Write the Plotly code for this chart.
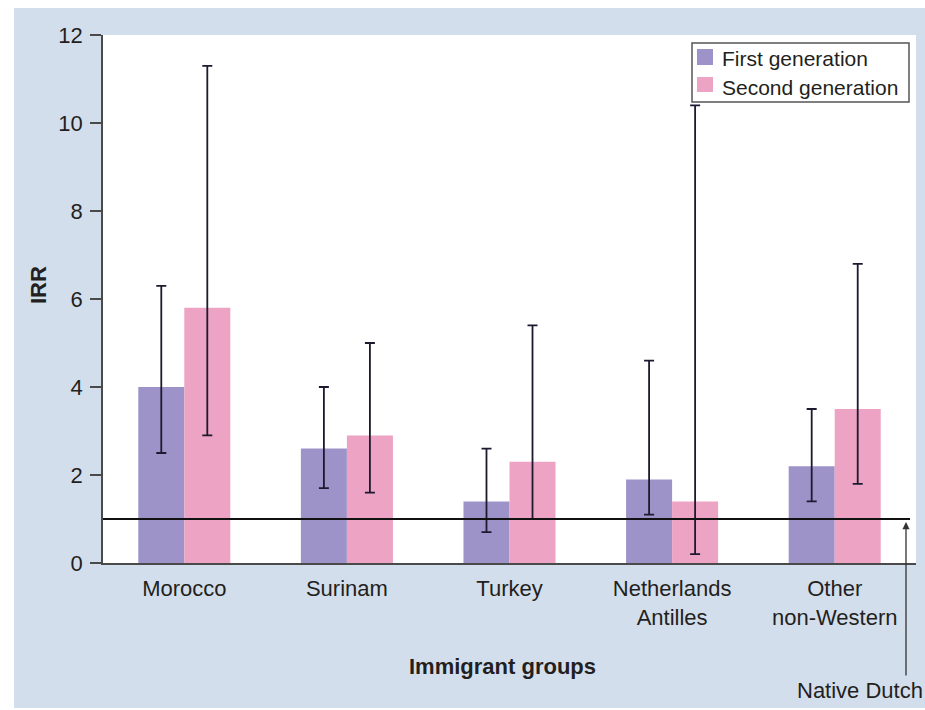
import plotly.graph_objects as go

# Incidence rate ratios by immigrant group and generation (reference: native Dutch = 1)
groups = ["Morocco", "Surinam", "Turkey", "Netherlands<br>Antilles", "Other<br>non-Western"]

first_irr = [4.0, 2.6, 1.4, 1.9, 2.2]
first_lo = [2.5, 1.7, 0.7, 1.1, 1.4]
first_hi = [6.3, 4.0, 2.6, 4.6, 3.5]

second_irr = [5.8, 2.9, 2.3, 1.4, 3.5]
second_lo = [2.9, 1.6, 1.0, 0.2, 1.8]
second_hi = [11.3, 5.0, 5.4, 10.4, 6.8]

baseline = 1.0
y_ticks = [0, 2, 4, 6, 8, 10, 12]

PURPLE = "#9d93c9"
PINK = "#eca3c4"
PANEL = "#d3deed"
INK = "#231f20"
AXIS = "#4a4a4a"
FONT = "Liberation Sans, Arial, sans-serif"

# page geometry (pixels)
W, H = 925, 710
L, R, T, B = 103, 9, 35, 147
PW, PH = W - L - R, H - T - B


def px(x):
    return (x - L) / PW


def py(y):
    return (H - B - y) / PH


def err(vals, lo, hi):
    return dict(
        type="data",
        symmetric=False,
        array=[h - v for v, h in zip(vals, hi)],
        arrayminus=[v - l for v, l in zip(vals, lo)],
        color="#1c1a2e",
        thickness=1.8,
        width=5,
    )


fig = go.Figure()
fig.add_trace(go.Bar(x=groups, y=first_irr, name="First generation",
                     marker=dict(color=PURPLE, line=dict(width=0)),
                     error_y=err(first_irr, first_lo, first_hi), showlegend=False))
fig.add_trace(go.Bar(x=groups, y=second_irr, name="Second generation",
                     marker=dict(color=PINK, line=dict(width=0)),
                     error_y=err(second_irr, second_lo, second_hi), showlegend=False))

shapes = [
    # white page edges around the shaded panel
    dict(type="rect", xref="paper", yref="paper", x0=px(0), x1=px(14), y0=py(H), y1=py(0),
         fillcolor="white", line=dict(width=0), layer="below"),
    dict(type="rect", xref="paper", yref="paper", x0=px(0), x1=px(W), y0=py(8), y1=py(0),
         fillcolor="white", line=dict(width=0), layer="below"),
    dict(type="rect", xref="paper", yref="paper", x0=px(0), x1=px(W), y0=py(H), y1=py(708),
         fillcolor="white", line=dict(width=0), layer="below"),
    # native Dutch reference line
    dict(type="line", xref="paper", yref="y", x0=0, x1=px(910), y0=baseline, y1=baseline,
         line=dict(color="#111111", width=2)),
    # legend box and swatches
    dict(type="rect", xref="paper", yref="paper", x0=px(692), x1=px(909), y0=py(102), y1=py(43),
         fillcolor="white", line=dict(color="#555555", width=1.5)),
    dict(type="rect", xref="paper", yref="paper", x0=px(697), x1=px(713), y0=py(65), y1=py(49),
         fillcolor=PURPLE, line=dict(width=0)),
    dict(type="rect", xref="paper", yref="paper", x0=px(697), x1=px(713), y0=py(92), y1=py(77),
         fillcolor=PINK, line=dict(width=0)),
]

annotations = [
    dict(text="First generation", xref="paper", yref="paper", x=px(720), y=py(58),
         xanchor="left", yanchor="middle", showarrow=False, font=dict(size=21, color=INK)),
    dict(text="Second generation", xref="paper", yref="paper", x=px(720), y=py(87),
         xanchor="left", yanchor="middle", showarrow=False, font=dict(size=21, color=INK)),
    dict(text="<b>IRR</b>", xref="paper", yref="paper", x=px(38), y=py(285), textangle=-90,
         xanchor="center", yanchor="middle", showarrow=False, font=dict(size=22, color=INK)),
    dict(text="<b>Immigrant groups</b>", xref="paper", yref="paper", x=px(502), y=py(666),
         xanchor="center", yanchor="middle", showarrow=False, font=dict(size=22, color=INK)),
    dict(text="Native Dutch", xref="paper", yref="paper", x=px(860), y=py(690),
         xanchor="center", yanchor="middle", showarrow=False, font=dict(size=22, color=INK)),
    dict(text="", xref="paper", yref="y", x=px(906), y=baseline, ax=0, ay=158,
         axref="pixel", ayref="pixel", showarrow=True, arrowhead=2, arrowsize=1.1,
         arrowwidth=1.3, arrowcolor="#333333", standoff=3),
]

fig.update_layout(
    width=W, height=H,
    margin=dict(l=L, r=R, t=T, b=B, pad=0),
    paper_bgcolor=PANEL,
    plot_bgcolor="white",
    barmode="group",
    bargap=0.434,
    bargroupgap=0,
    font=dict(family=FONT, size=22, color=INK),
    shapes=shapes,
    annotations=annotations,
    showlegend=False,
    xaxis=dict(showline=True, linecolor=AXIS, linewidth=1.5, ticks="", showgrid=False,
               zeroline=False, ticklabelstandoff=5, tickfont=dict(size=22, color=INK)),
    yaxis=dict(range=[0, 12], tickvals=y_ticks, showline=True, linecolor=AXIS, linewidth=1.5,
               ticks="outside", ticklen=11, tickwidth=1.5, tickcolor=AXIS, showgrid=False,
               zeroline=False, ticklabelstandoff=3, tickfont=dict(size=22, color=INK)),
)

fig.write_html("out.html")
